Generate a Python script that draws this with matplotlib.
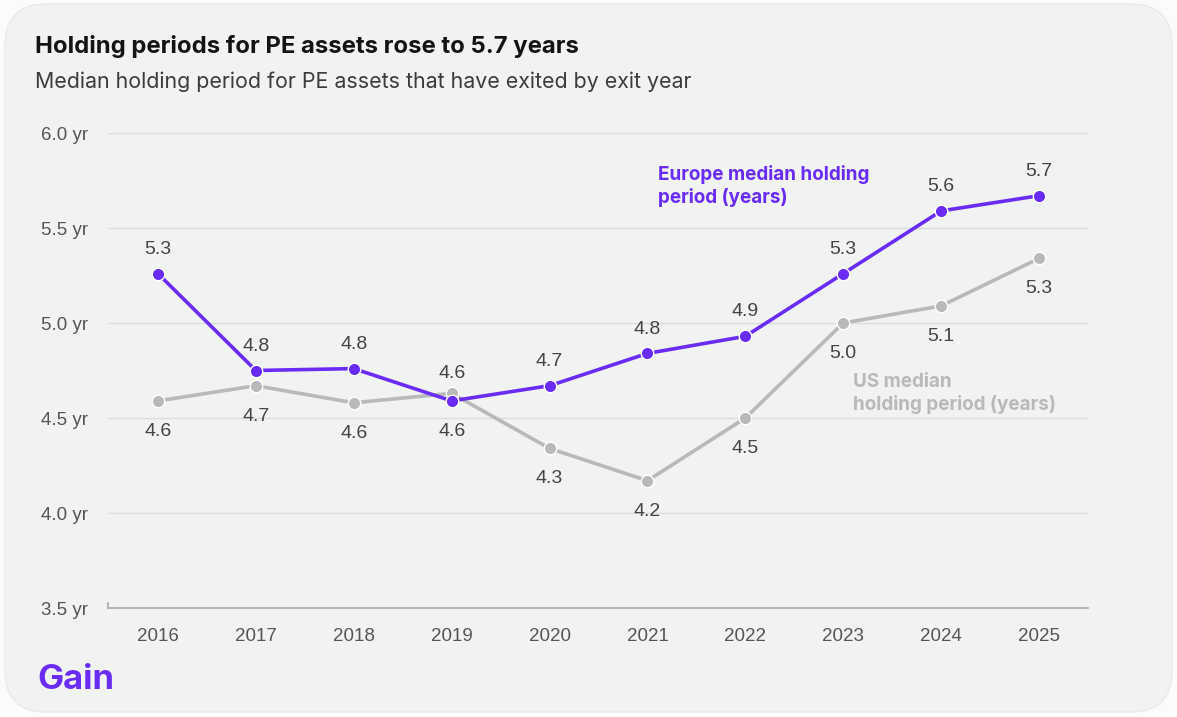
import matplotlib.pyplot as plt
from matplotlib.patches import FancyBboxPatch

plt.rcParams['font.family'] = ['Inter', 'DejaVu Sans']
NUM_FONT = ['Liberation Sans', 'DejaVu Sans']

# median holding period by exit year
years = ['2016', '2017', '2018', '2019', '2020', '2021', '2022', '2023', '2024', '2025']
europe = [5.26, 4.75, 4.76, 4.59, 4.67, 4.84, 4.93, 5.26, 5.59, 5.67]
us = [4.59, 4.67, 4.58, 4.63, 4.34, 4.17, 4.50, 5.00, 5.09, 5.34]
yticks = [3.5, 4.0, 4.5, 5.0, 5.5, 6.0]

# which side of the point each value label goes on (+1 above, -1 below)
europe_side = [1, 1, 1, -1, 1, 1, 1, 1, 1, 1]
us_side = [-1, -1, -1, 1, -1, -1, -1, -1, -1, -1]

PURPLE = '#6a2cf5'
GREY = '#b9b9b9'
TEXT = '#444444'

fig = plt.figure(figsize=(11.77, 7.17), dpi=100)
fig.patch.set_facecolor('#fafbfb')

card = FancyBboxPatch((5 / 1177, 5 / 717), 1167 / 1177, 708 / 717,
                      boxstyle='round,pad=0,rounding_size=0.035',
                      transform=fig.transFigure, facecolor='#f1f2f2',
                      edgecolor='#e9eaea', linewidth=1, mutation_aspect=1177 / 717,
                      zorder=-1)
fig.patches.append(card)

fig.text(35 / 1177, 1 - 47 / 717, 'Holding periods for PE assets rose to 5.7 years',
         fontsize=17.2, fontweight='bold', color='#141414', va='center')
fig.text(35 / 1177, 1 - 82 / 717, 'Median holding period for PE assets that have exited by exit year',
         fontsize=15.4, color='#3c3c3c', va='center')
fig.text(37 / 1177, 1 - 680 / 717, 'Gain', fontsize=25, fontweight='bold',
         color=PURPLE, va='center')

ax = fig.add_axes([108 / 1177, 1 - 608 / 717, 980 / 1177, 475 / 717])
ax.set_facecolor('none')
x = list(range(len(years)))
ax.set_xlim(-0.51, 9.5)
ax.set_ylim(3.5, 6.0)

for v in yticks[1:]:
    ax.axhline(v, color='#dcdddd', linewidth=1, zorder=0)

ax.plot(x, us, color=GREY, linewidth=2.6, marker='o', markersize=9,
        markeredgecolor='white', markeredgewidth=1, zorder=3)
ax.plot(x, europe, color=PURPLE, linewidth=2.6, marker='o', markersize=9,
        markeredgecolor='white', markeredgewidth=1, zorder=4)

for xi, v, s in zip(x, europe, europe_side):
    ax.annotate(f'{v:.1f}', (xi, v), xytext=(0, 17.5 if s > 0 else -22),
                textcoords='offset points', ha='center', va='center',
                fontsize=14, color=TEXT, family=NUM_FONT)
for xi, v, s in zip(x, us, us_side):
    ax.annotate(f'{v:.1f}', (xi, v), xytext=(0, 14 if s > 0 else -22),
                textcoords='offset points', ha='center', va='center',
                fontsize=14, color=TEXT, family=NUM_FONT)

ax.text(5.107, 5.721, 'Europe median holding\nperiod (years)', fontsize=13.6,
        fontweight='bold', color=PURPLE, va='center', ha='left', linespacing=1.3)
ax.text(7.1, 4.629, 'US median\nholding period (years)', fontsize=13.6,
        fontweight='bold', color=GREY, va='center', ha='left', linespacing=1.3)

for side in ['top', 'right']:
    ax.spines[side].set_visible(False)
ax.spines['bottom'].set_color('#a9a9a9')
ax.spines['bottom'].set_linewidth(1.2)
ax.spines['left'].set_color('#a9a9a9')
ax.spines['left'].set_linewidth(1.2)
ax.spines['left'].set_bounds(3.5, 3.525)

ax.set_xticks(x)
ax.set_xticklabels(years, family=NUM_FONT)
ax.set_yticks(yticks)
ax.set_yticklabels([f'{v:.1f} yr' for v in yticks], family=NUM_FONT)
ax.tick_params(length=0, labelsize=13.5, labelcolor='#555555')
ax.tick_params(axis='x', pad=14.5)
ax.tick_params(axis='y', pad=14.5)

fig.savefig('out.png', dpi=100, facecolor=fig.get_facecolor())
